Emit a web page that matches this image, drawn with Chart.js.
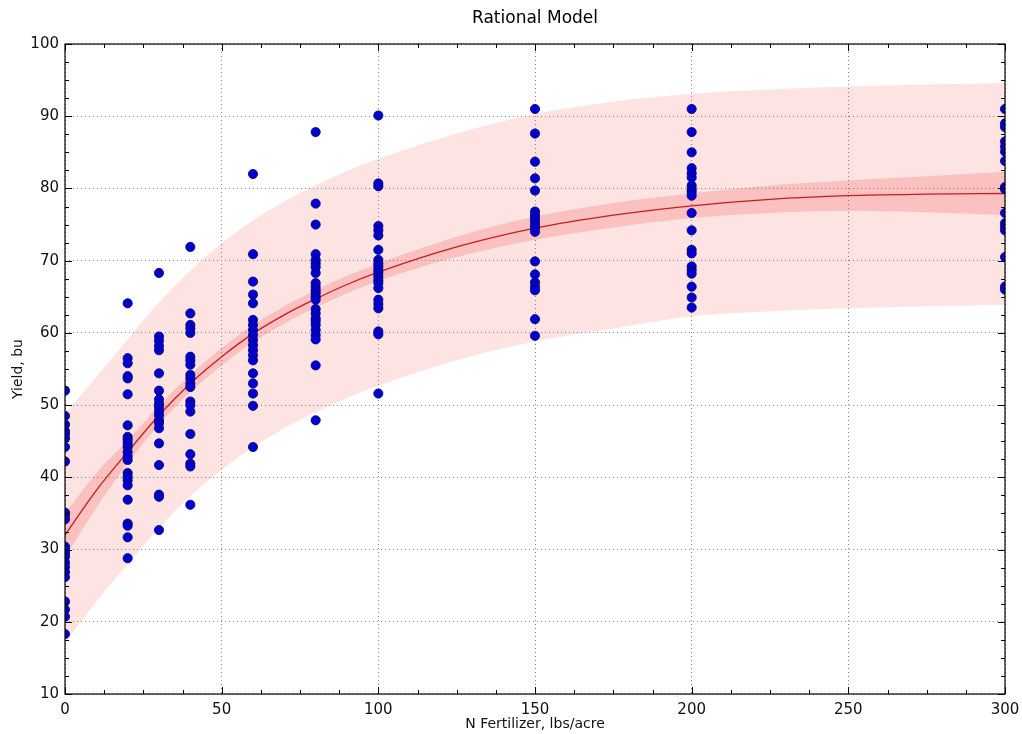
<!DOCTYPE html>
<html>
<head>
<meta charset="utf-8">
<title>Rational Model</title>
<script src="https://cdn.jsdelivr.net/npm/chart.js@4.4.1/dist/chart.umd.min.js"></script>
<style>
    html, body { margin: 0; padding: 0; background: #fff; }
</style>
</head>
<body>
<canvas id="chart" width="1022" height="734"></canvas>
<script>
// Observed yields, one array per N rate (lbs/acre)
const nLevels = [0, 20, 30, 40, 60, 80, 100, 150, 200, 300];
const yield0 = [52.0, 48.5, 47.3, 46.4, 46.0, 45.4, 44.2, 42.2, 35.1, 34.8, 34.2, 30.4, 29.9, 29.5, 29.0, 28.2, 27.6, 26.9, 26.2, 22.8, 21.7, 20.7, 18.3];
const yield20 = [64.1, 56.5, 55.8, 54.0, 53.7, 51.5, 47.2, 45.6, 45.2, 44.7, 44.2, 43.5, 42.9, 42.4, 40.6, 40.1, 39.6, 38.9, 36.9, 33.6, 33.3, 31.7, 28.8];
const yield30 = [68.3, 59.5, 58.9, 58.2, 57.6, 54.4, 52.0, 50.8, 50.2, 49.7, 49.1, 48.6, 47.9, 47.5, 46.8, 44.7, 41.7, 37.6, 37.3, 32.7];
const yield40 = [71.9, 62.7, 61.1, 60.6, 60.0, 56.7, 56.2, 55.6, 54.2, 53.7, 53.0, 52.5, 50.5, 50.0, 49.1, 46.0, 43.2, 41.9, 41.5, 36.2];
const yield60 = [82.0, 70.9, 67.1, 65.3, 64.1, 61.8, 61.1, 60.4, 59.7, 59.0, 58.3, 57.6, 56.9, 56.2, 54.4, 53.0, 51.6, 49.9, 44.2];
const yield80 = [87.8, 77.9, 75.0, 70.9, 70.1, 69.6, 69.1, 68.3, 66.9, 66.4, 65.9, 65.5, 65.0, 64.6, 63.3, 62.7, 62.0, 61.6, 61.1, 60.4, 59.7, 59.1, 55.5, 47.9];
const yield100 = [90.1, 80.7, 80.3, 74.8, 74.2, 73.5, 71.5, 70.1, 69.6, 69.2, 68.7, 68.3, 67.8, 67.3, 66.9, 66.2, 64.6, 64.0, 63.4, 60.2, 59.8, 51.6];
const yield150 = [91.0, 87.6, 83.7, 81.4, 79.7, 76.8, 76.3, 75.9, 75.4, 74.9, 74.5, 74.0, 69.9, 68.1, 67.0, 66.4, 65.9, 61.9, 59.6];
const yield200 = [91.0, 87.8, 85.0, 82.8, 82.1, 81.5, 80.4, 79.9, 79.5, 79.0, 76.6, 74.2, 71.5, 71.0, 69.2, 68.7, 68.2, 66.4, 64.9, 63.5];
const yield300 = [91.0, 89.0, 88.5, 86.5, 85.8, 85.1, 83.8, 80.2, 79.9, 76.6, 75.2, 74.7, 74.2, 70.5, 66.4, 66.0];

// Fitted curve and bands
const fitX = [0, 10, 20, 30, 40, 50, 60, 70, 80, 90, 100, 125, 150, 175, 200, 225, 250, 275, 300];
const fitY = [32.0, 38.2, 43.5, 48.6, 53.0, 56.7, 59.9, 62.5, 64.7, 66.7, 68.4, 71.9, 74.5, 76.3, 77.6, 78.5, 79.0, 79.2, 79.3];
const ciLow = [29.0, 35.8, 41.9, 47.3, 51.8, 55.5, 58.7, 61.3, 63.5, 65.5, 67.2, 70.5, 72.9, 74.6, 75.9, 76.6, 76.9, 76.7, 76.3];
const ciHigh = [35.0, 40.6, 45.1, 49.9, 54.2, 57.9, 61.1, 63.7, 65.9, 67.9, 69.6, 73.3, 76.1, 78.0, 79.3, 80.4, 81.1, 81.7, 82.3];
const piLow = [17.0, 22.8, 28.0, 33.0, 37.4, 41.0, 44.2, 46.8, 49.0, 51.0, 52.7, 56.2, 58.8, 60.6, 62.3, 63.0, 63.4, 63.7, 63.9];
const piHigh = [48.8, 53.9, 59.1, 64.2, 68.6, 72.4, 75.6, 78.2, 80.4, 82.4, 84.1, 87.6, 90.3, 92.0, 93.1, 93.7, 94.1, 94.4, 94.6];

const xTicks = [0, 50, 100, 150, 200, 250, 300];
const yTicks = [10, 20, 30, 40, 50, 60, 70, 80, 90, 100];

const yieldSets = [yield0, yield20, yield30, yield40, yield60, yield80, yield100, yield150, yield200, yield300];
const observed = [];
yieldSets.forEach(function(values, i) {
    values.forEach(function(v) {
        observed.push({ x: nLevels[i], y: v });
    });
});

function toPoints(ys) {
    return fitX.map((x, i) => ({ x: x, y: ys[i] }));
}

/**
 * Frame on all four sides plus inward major/minor ticks (matplotlib look)
 */
const frameTicks = {
    id: 'frameTicks',
    afterDatasetsDraw(chart) {
        const ctx = chart.ctx;
        const area = chart.chartArea;
        const xs = chart.scales.x;
        const ys = chart.scales.y;
        ctx.save();
        ctx.strokeStyle = '#000';
        ctx.lineWidth = 1;
        ctx.beginPath();
        // minor/major ticks on x
        for (let v = 0; v <= 300.01; v += 12.5) {
            const px = Math.round(xs.getPixelForValue(v)) + 0.5;
            const len = (v % 50 === 0) ? 7 : 4;
            ctx.moveTo(px, area.bottom); ctx.lineTo(px, area.bottom - len);
            ctx.moveTo(px, area.top); ctx.lineTo(px, area.top + len);
        }
        // minor/major ticks on y
        for (let v = 10; v <= 100.01; v += 2.5) {
            const py = Math.round(ys.getPixelForValue(v)) + 0.5;
            const len = (v % 10 === 0) ? 7 : 4;
            ctx.moveTo(area.left, py); ctx.lineTo(area.left + len, py);
            ctx.moveTo(area.right, py); ctx.lineTo(area.right - len, py);
        }
        ctx.stroke();
        ctx.lineWidth = 1.2;
        ctx.strokeRect(area.left, area.top, area.right - area.left, area.bottom - area.top);
        ctx.restore();
    }
};

const ctx = document.getElementById('chart').getContext('2d');
new Chart(ctx, {
    type: 'scatter',
    data: {
        datasets: [
            {
                label: 'observed',
                data: observed,
                order: 0,
                pointRadius: 4.6,
                pointBackgroundColor: '#0000cd',
                pointBorderColor: '#00007a',
                pointBorderWidth: 0.8,
                clip: 0
            },
            {
                type: 'line',
                label: 'fit',
                data: toPoints(fitY),
                order: 1,
                borderColor: '#c81e1e',
                borderWidth: 1.3,
                pointRadius: 0,
                cubicInterpolationMode: 'monotone',
                fill: false
            },
            {
                type: 'line',
                label: 'ci upper',
                data: toPoints(ciHigh),
                order: 2,
                borderWidth: 0,
                pointRadius: 0,
                cubicInterpolationMode: 'monotone',
                backgroundColor: 'rgba(235, 70, 70, 0.22)',
                fill: '+1'
            },
            {
                type: 'line',
                label: 'ci lower',
                data: toPoints(ciLow),
                order: 2,
                borderWidth: 0,
                pointRadius: 0,
                cubicInterpolationMode: 'monotone',
                fill: false
            },
            {
                type: 'line',
                label: 'pi upper',
                data: toPoints(piHigh),
                order: 3,
                borderWidth: 0,
                pointRadius: 0,
                cubicInterpolationMode: 'monotone',
                backgroundColor: 'rgba(245, 40, 40, 0.13)',
                fill: '+1'
            },
            {
                type: 'line',
                label: 'pi lower',
                data: toPoints(piLow),
                order: 3,
                borderWidth: 0,
                pointRadius: 0,
                cubicInterpolationMode: 'monotone',
                fill: false
            }
        ]
    },
    options: {
        responsive: false,
        animation: false,
        layout: { padding: 0 },
        plugins: {
            legend: { display: false },
            tooltip: { enabled: false },
            title: {
                display: true,
                fullSize: false,
                text: 'Rational Model',
                color: '#000',
                font: { family: 'DejaVu Sans', size: 17, weight: 'normal' },
                padding: { top: 8, bottom: 15.6 }
            }
        },
        scales: {
            x: {
                type: 'linear',
                min: 0,
                max: 300,
                afterBuildTicks: function(scale) {
                    scale.ticks = xTicks.map(v => ({ value: v }));
                },
                afterFit: function(scale) {
                    scale.height = 40;
                    scale.paddingLeft = 0;
                    scale.paddingRight = 17;
                },
                ticks: {
                    color: '#111',
                    padding: 7,
                    maxRotation: 0,
                    font: { family: 'DejaVu Sans', size: 15 }
                },
                grid: {
                    drawTicks: false,
                    color: '#8a8a8a',
                    lineWidth: 1
                },
                border: { display: false, dash: [1, 3] },
                title: {
                    display: true,
                    text: 'N Fertilizer, lbs/acre',
                    color: '#111',
                    font: { family: 'DejaVu Sans', size: 14 },
                    padding: { top: 0, bottom: 1 }
                }
            },
            y: {
                type: 'linear',
                min: 10,
                max: 100,
                afterBuildTicks: function(scale) {
                    scale.ticks = yTicks.map(v => ({ value: v }));
                },
                afterFit: function(scale) { scale.width = 65; },
                ticks: {
                    color: '#111',
                    padding: 6,
                    font: { family: 'DejaVu Sans', size: 15 }
                },
                grid: {
                    drawTicks: false,
                    color: '#8a8a8a',
                    lineWidth: 1
                },
                border: { display: false, dash: [1, 3] },
                title: {
                    display: true,
                    text: 'Yield, bu',
                    color: '#111',
                    font: { family: 'DejaVu Sans', size: 14 },
                    padding: { top: 10, bottom: 0 }
                }
            }
        }
    },
    plugins: [frameTicks]
});
</script>
</body>
</html>
